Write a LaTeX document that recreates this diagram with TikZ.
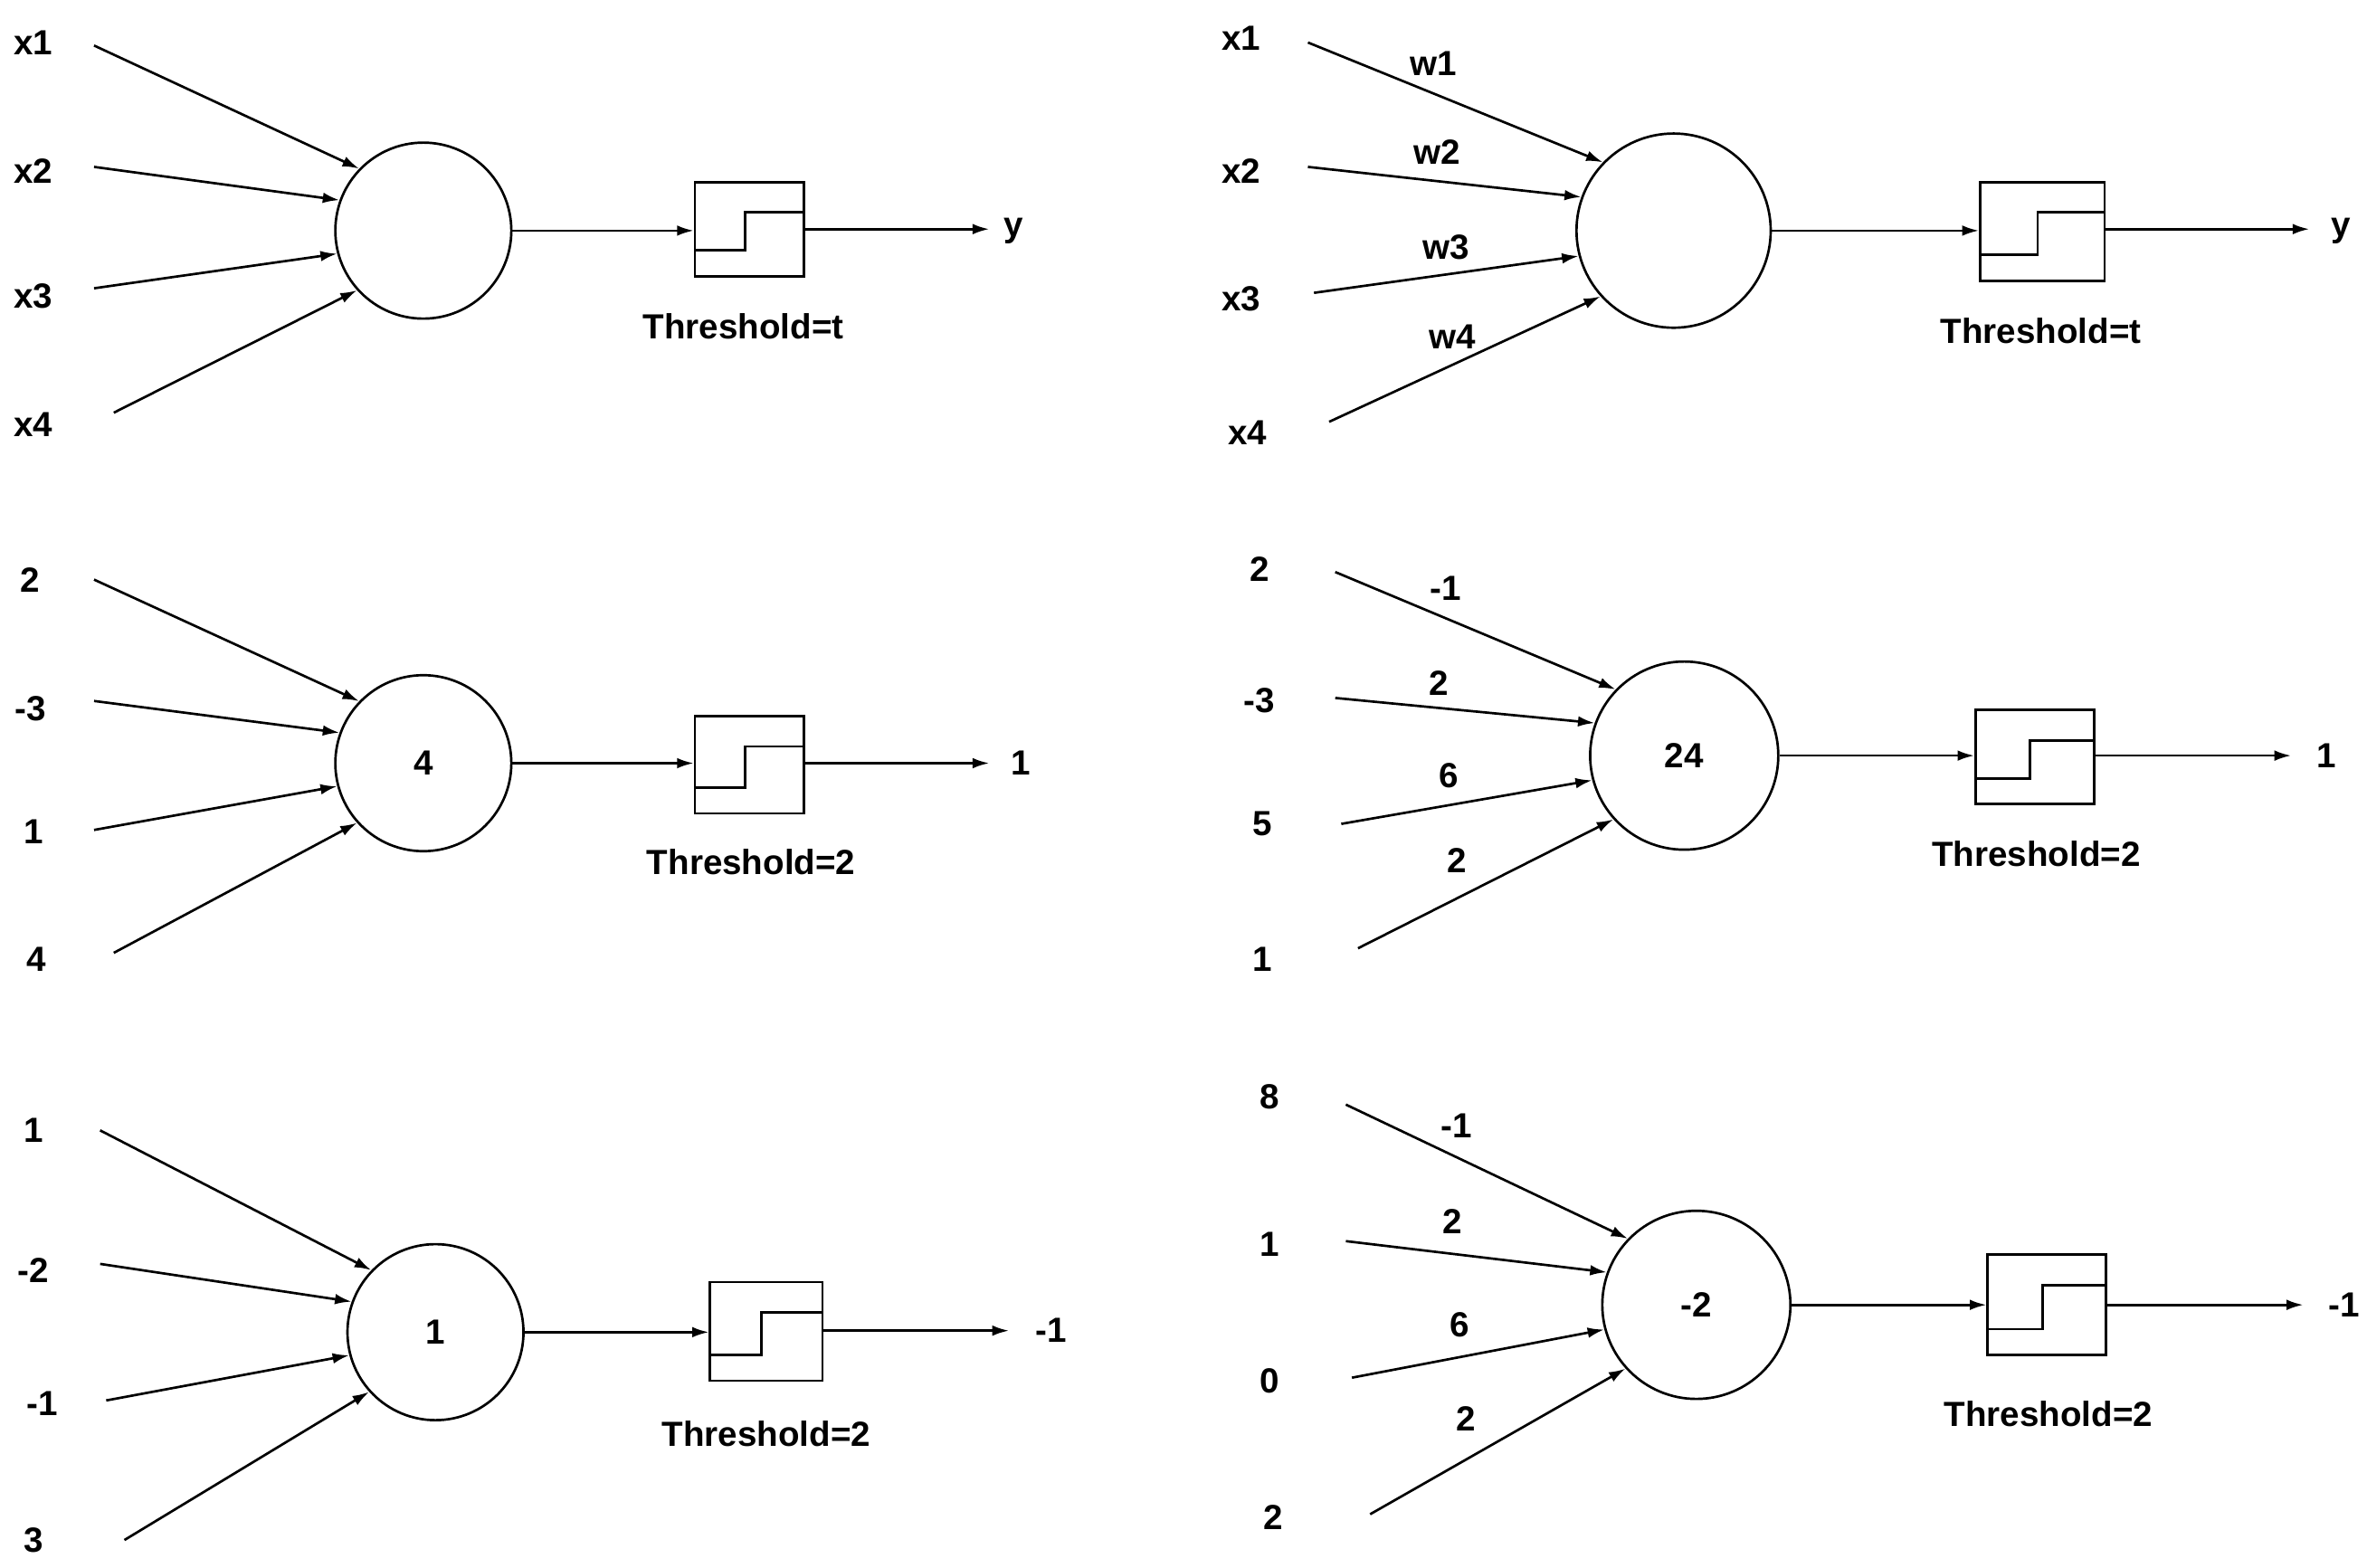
\documentclass[tikz,border=0pt]{standalone}
\usepackage{fontspec}
\setmainfont{Liberation Sans}
\usetikzlibrary{arrows.meta}
\begin{document}
\begin{tikzpicture}[x=1pt,y=-1pt,
  lbl/.style={font=\fontsize{23}{26}\selectfont\bfseries},
  neu/.style={circle,draw,line width=1.6pt,font=\fontsize{23}{26}\selectfont\bfseries},
  box/.style={draw,line width=1.6pt,minimum width=#1},
  con/.style={line width=1.6pt,-{Latex[length=11pt,width=7pt]}}]
\useasboundingbox (0,0) rectangle (1560,1033);
% generic panel: #1 prefix, #2 cx, #3 cy, #4 radius, #5 text, #6 box left, #7 box right, #8 box top, #9 box bottom
\newcommand\mypanel[9]{%
  \node[neu,minimum size=2*#4] (#1c) at (#2,#3) {#5};
  \node[draw,line width=1.6pt,minimum width=#7-#6,minimum height=#9-#8,inner sep=0] (#1b) at ({(#6+#7)/2},{(#8+#9)/2}) {};
  \draw[line width=1.6pt] (#6,{#9-17}) -- ({(#6+#7)/2-3},{#9-17}) -- ({(#6+#7)/2-3},{#8+20}) -- (#7,{#8+20});
  \draw[con] (#1c.east) -- (#1b.west |- #1c.east);
}
% Panel 1
\mypanel{a}{279}{152}{58}{}{458}{530}{120}{182}
\node[lbl] at (22,28) {x1}; \node[lbl] at (22,113) {x2}; \node[lbl] at (22,195) {x3}; \node[lbl] at (22,280) {x4};
\coordinate (a1) at (62,30); \coordinate (a2) at (62,110); \coordinate (a3) at (62,190); \coordinate (a4) at (75,272);
\draw[con] (a1) -- (ac.136); \draw[con] (a2) -- (ac.160); \draw[con] (a3) -- (ac.195); \draw[con] (a4) -- (ac.222);
\node[lbl] (ay) at (668,152) {y}; \coordinate (ao) at (652,151);
\draw[con] (ab.east |- ao) -- (ao);
\node[lbl] at (490,215) {Threshold=t};
% Panel 2
\mypanel{b}{1103}{152}{64}{}{1305}{1387}{120}{185}
\node[lbl] at (818,25) {x1}; \node[lbl] at (818,113) {x2}; \node[lbl] at (818,197) {x3}; \node[lbl] at (822,285) {x4};
\node[lbl] at (945,42) {w1}; \node[lbl] at (947,100) {w2}; \node[lbl] at (953,163) {w3}; \node[lbl] at (957,222) {w4};
\coordinate (b1) at (862,28); \coordinate (b2) at (862,110); \coordinate (b3) at (866,193); \coordinate (b4) at (876,278);
\draw[con] (b1) -- (bc.136); \draw[con] (b2) -- (bc.160); \draw[con] (b3) -- (bc.195); \draw[con] (b4) -- (bc.222);
\node[lbl] (by) at (1543,152) {y}; \coordinate (bo) at (1522,151);
\draw[con] (bb.east |- bo) -- (bo);
\node[lbl] at (1345,218) {Threshold=t};
% Panel 3
\mypanel{c}{279}{503}{58}{4}{458}{530}{472}{536}
\node[lbl] at (20,382) {2}; \node[lbl] at (20,467) {-3}; \node[lbl] at (22,548) {1}; \node[lbl] at (24,632) {4};
\coordinate (c1) at (62,382); \coordinate (c2) at (62,462); \coordinate (c3) at (62,547); \coordinate (c4) at (75,628);
\draw[con] (c1) -- (cc.136); \draw[con] (c2) -- (cc.160); \draw[con] (c3) -- (cc.195); \draw[con] (c4) -- (cc.222);
\node[lbl] (cy) at (673,503) {1}; \coordinate (co) at (652,503);
\draw[con] (cb.east |- co) -- (co);
\node[lbl] at (495,568) {Threshold=2};
% Panel 4
\mypanel{d}{1110}{498}{62}{24}{1302}{1380}{468}{530}
\node[lbl] at (830,375) {2}; \node[lbl] at (830,462) {-3}; \node[lbl] at (832,543) {5}; \node[lbl] at (832,632) {1};
\node[lbl] at (953,388) {-1}; \node[lbl] at (948,450) {2}; \node[lbl] at (955,511) {6}; \node[lbl] at (960,567) {2};
\coordinate (d1) at (880,377); \coordinate (d2) at (880,460); \coordinate (d3) at (884,543); \coordinate (d4) at (895,625);
\draw[con] (d1) -- (dc.136); \draw[con] (d2) -- (dc.160); \draw[con] (d3) -- (dc.195); \draw[con] (d4) -- (dc.222);
\node[lbl] (dy) at (1533,498) {1}; \coordinate (do) at (1510,498);
\draw[con] (db.east |- do) -- (do);
\node[lbl] at (1342,563) {Threshold=2};
% Panel 5
\mypanel{e}{287}{878}{58}{1}{468}{542}{845}{910}
\node[lbl] at (22,745) {1}; \node[lbl] at (22,837) {-2}; \node[lbl] at (28,925) {-1}; \node[lbl] at (22,1015) {3};
\coordinate (e1) at (66,745); \coordinate (e2) at (66,833); \coordinate (e3) at (70,923); \coordinate (e4) at (82,1015);
\draw[con] (e1) -- (ec.136); \draw[con] (e2) -- (ec.160); \draw[con] (e3) -- (ec.195); \draw[con] (e4) -- (ec.222);
\node[lbl] (ey) at (693,877) {-1}; \coordinate (eo) at (665,877);
\draw[con] (eb.east |- eo) -- (eo);
\node[lbl] at (505,945) {Threshold=2};
% Panel 6
\mypanel{f}{1118}{860}{62}{-2}{1310}{1388}{827}{893}
\node[lbl] at (837,723) {8}; \node[lbl] at (837,820) {1}; \node[lbl] at (837,910) {0}; \node[lbl] at (839,1000) {2};
\node[lbl] at (960,742) {-1}; \node[lbl] at (957,805) {2}; \node[lbl] at (962,873) {6}; \node[lbl] at (966,935) {2};
\coordinate (f1) at (887,728); \coordinate (f2) at (887,818); \coordinate (f3) at (891,908); \coordinate (f4) at (903,998);
\draw[con] (f1) -- (fc.136); \draw[con] (f2) -- (fc.160); \draw[con] (f3) -- (fc.195); \draw[con] (f4) -- (fc.222);
\node[lbl] (fy) at (1545,860) {-1}; \coordinate (fo) at (1518,860);
\draw[con] (fb.east |- fo) -- (fo);
\node[lbl] at (1350,932) {Threshold=2};
\end{tikzpicture}
\end{document}
